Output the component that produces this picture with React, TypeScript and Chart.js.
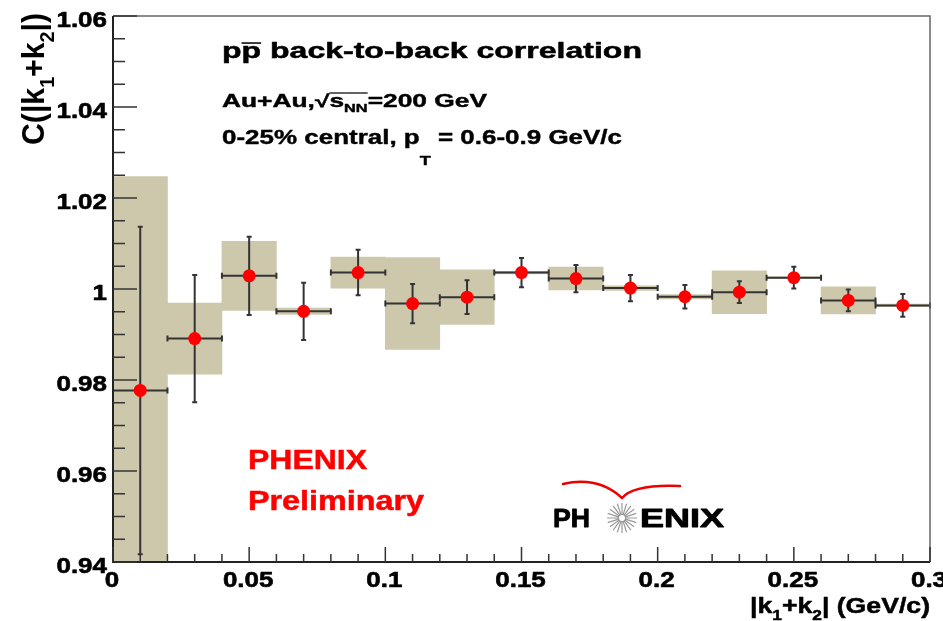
import React, { useEffect, useRef } from 'react';
import { Chart, registerables } from 'chart.js';

Chart.register(...registerables);

// ---------- data ----------
const binCenters = [0.01, 0.03, 0.05, 0.07, 0.09, 0.11, 0.13, 0.15, 0.17, 0.19, 0.21, 0.23, 0.25, 0.27, 0.29];
const binHalfWidth = 0.01;
const corrValues = [0.9777, 0.9891, 1.0029, 0.9951, 1.0036, 0.9968, 0.9982, 1.0036, 1.0023, 1.0002, 0.9983, 0.9993, 1.0025, 0.9975, 0.9964];
const statErrors = [0.036, 0.014, 0.0086, 0.0063, 0.005, 0.0043, 0.0037, 0.0032, 0.003, 0.0029, 0.0026, 0.0024, 0.0024, 0.0024, 0.0025];
const sysErrors = [0.047, 0.0078, 0.0076, 0.0007, 0.0034, 0.0101, 0.006, 0.0003, 0.0025, 0.0005, 0.0005, 0.0047, 0.0002, 0.003, 0.0003];

const xTickValues = [0, 0.05, 0.1, 0.15, 0.2, 0.25, 0.3];
const xTickLabels = ['0', '0.05', '0.1', '0.15', '0.2', '0.25', '0.3'];
const yTickValues = [0.94, 0.96, 0.98, 1.0, 1.02, 1.04, 1.06];
const yTickLabels = ['0.94', '0.96', '0.98', '1', '1.02', '1.04', '1.06'];

const X_MIN = 0, X_MAX = 0.3, Y_MIN = 0.94, Y_MAX = 1.06;

const FONT = '"Liberation Sans", Arial, Helvetica, sans-serif';

type Seg = { t: string; s?: number; dy?: number; ol?: number };
type RichOpts = { size: number; width?: number; sx?: number; align?: 'left' | 'right' | 'center'; color?: string; rotate?: boolean; cross?: number; heavy?: number };

function drawRich(ctx: CanvasRenderingContext2D, segs: Seg[], x: number, y: number, o: RichOpts) {
  ctx.save();
  const widths = segs.map((sg) => {
    ctx.font = `bold ${o.size * (sg.s ?? 1)}px ${FONT}`;
    return ctx.measureText(sg.t).width;
  });
  const total = widths.reduce((a, b) => a + b, 0);
  const sx = o.width ? o.width / total : o.sx ?? 1;
  ctx.translate(x, y);
  if (o.rotate) ctx.rotate(-Math.PI / 2);
  ctx.scale(sx, o.cross ?? 1);
  const align = o.align ?? 'left';
  let cx = align === 'left' ? 0 : align === 'right' ? -total : -total / 2;
  ctx.fillStyle = o.color ?? '#000';
  ctx.strokeStyle = o.color ?? '#000';
  ctx.textAlign = 'left';
  ctx.textBaseline = 'alphabetic';
  ctx.lineJoin = 'round';
  segs.forEach((sg, i) => {
    ctx.font = `bold ${o.size * (sg.s ?? 1)}px ${FONT}`;
    ctx.fillText(sg.t, cx, (sg.dy ?? 0) * o.size);
    if (o.heavy) {
      ctx.lineWidth = o.heavy;
      ctx.strokeText(sg.t, cx, (sg.dy ?? 0) * o.size);
    }
    if (sg.ol !== undefined) {
      ctx.lineWidth = o.size * 0.07;
      ctx.beginPath();
      ctx.moveTo(cx, -sg.ol * o.size);
      ctx.lineTo(cx + widths[i], -sg.ol * o.size);
      ctx.stroke();
    }
    cx += widths[i];
  });
  ctx.restore();
}

const errorBarPlugin = {
  id: 'errorBars',
  afterDatasetDraw(chart: any, args: any) {
    if (args.index !== 1) return;
    const { ctx, scales } = chart;
    const xs = scales.x, ys = scales.y;
    ctx.save();
    ctx.strokeStyle = '#333';
    ctx.lineWidth = 2;
    binCenters.forEach((xc, i) => {
      const v = corrValues[i];
      const px = xs.getPixelForValue(xc);
      const py = ys.getPixelForValue(v);
      const pl = xs.getPixelForValue(xc - binHalfWidth);
      const pr = xs.getPixelForValue(xc + binHalfWidth);
      const pt = ys.getPixelForValue(v + statErrors[i]);
      const pb = ys.getPixelForValue(v - statErrors[i]);
      ctx.beginPath();
      ctx.moveTo(pl, py); ctx.lineTo(pr, py);
      ctx.moveTo(px, pt); ctx.lineTo(px, pb);
      ctx.moveTo(pl, py - 3); ctx.lineTo(pl, py + 3);
      ctx.moveTo(pr, py - 3); ctx.lineTo(pr, py + 3);
      ctx.moveTo(px - 2.5, pt); ctx.lineTo(px + 2.5, pt);
      ctx.moveTo(px - 2.5, pb); ctx.lineTo(px + 2.5, pb);
      ctx.stroke();
    });
    ctx.restore();
  },
};

const decorPlugin = {
  id: 'decor',
  afterDraw(chart: any) {
    const { ctx, chartArea: a, scales } = chart;
    const xs = scales.x, ys = scales.y;
    ctx.save();
    // frame
    ctx.lineCap = 'butt';
    ctx.strokeStyle = '#666';
    ctx.lineWidth = 1.5;
    ctx.beginPath();
    ctx.moveTo(a.left, a.top); ctx.lineTo(a.right, a.top); ctx.lineTo(a.right, a.bottom);
    ctx.stroke();
    ctx.strokeStyle = '#222';
    ctx.lineWidth = 2;
    ctx.beginPath();
    ctx.moveTo(a.left, a.top); ctx.lineTo(a.left, a.bottom); ctx.lineTo(a.right, a.bottom);
    ctx.stroke();
    // ticks (inside)
    ctx.strokeStyle = '#333';
    ctx.lineWidth = 1.5;
    ctx.beginPath();
    const nY = Math.round((Y_MAX - Y_MIN) / 0.005);
    for (let i = 0; i <= nY; i++) {
      const py = ys.getPixelForValue(Y_MIN + i * 0.005);
      const len = i % 4 === 0 ? 24 : 12;
      ctx.moveTo(a.left, py); ctx.lineTo(a.left + len, py);
    }
    const nX = Math.round((X_MAX - X_MIN) / 0.01);
    for (let i = 0; i <= nX; i++) {
      const px = xs.getPixelForValue(X_MIN + i * 0.01);
      const len = i % 5 === 0 ? 15 : 8;
      ctx.moveTo(px, a.bottom); ctx.lineTo(px, a.bottom - len);
    }
    ctx.stroke();
    ctx.restore();

    // tick labels
    yTickValues.forEach((v, i) => {
      drawRich(ctx, [{ t: yTickLabels[i] }], a.left - 6, ys.getPixelForValue(v) + 10.5, { size: 22, sx: 1.18, align: 'right', heavy: 0.6 });
    });
    xTickValues.forEach((v, i) => {
      drawRich(ctx, [{ t: xTickLabels[i] }], xs.getPixelForValue(v) - 1, a.bottom + 25, { size: 22, sx: 1.18, align: 'center', heavy: 0.6 });
    });

    // axis titles
    drawRich(ctx, [{ t: '|k' }, { t: '1', s: 0.65, dy: 0.3 }, { t: '+k' }, { t: '2', s: 0.65, dy: 0.3 }, { t: '| (GeV/c)' }],
      a.right, 613, { size: 22, width: 180, align: 'right', heavy: 0.5 });
    drawRich(ctx, [{ t: 'C(|k' }, { t: '1', s: 0.65, dy: 0.3 }, { t: '+k' }, { t: '2', s: 0.65, dy: 0.3 }, { t: '|)' }],
      44, 13, { size: 29, width: 132, align: 'right', rotate: true, cross: 1.1 });

    // annotations
    drawRich(ctx, [{ t: 'p' }, { t: 'p', ol: 0.68 }, { t: ' back-to-back correlation' }], 222, 58, { size: 22, width: 420, heavy: 0.5 });
    drawRich(ctx, [{ t: 'Au+Au,' }, { t: '√' }, { t: 's', ol: 0.8 }, { t: 'NN', s: 0.62, dy: 0.3, ol: 0.8 }, { t: '=200 GeV' }], 222, 107, { size: 17.5, width: 265, heavy: 0.4 });
    drawRich(ctx, [{ t: '0-25% central, p' }, { t: 'T', s: 0.7, dy: 1.1 }, { t: ' = 0.6-0.9 GeV/c' }], 222, 144, { size: 19.5, width: 400, heavy: 0.4 });

    drawRich(ctx, [{ t: 'PHENIX' }], 248, 469, { size: 27, width: 119, color: '#ff0000', heavy: 0.5 });
    drawRich(ctx, [{ t: 'Preliminary' }], 248, 510, { size: 27, width: 176, color: '#ff0000', heavy: 0.5 });

    // logo
    drawRich(ctx, [{ t: 'PH' }], 553, 527, { size: 25, width: 37, heavy: 0.8 });
    drawRich(ctx, [{ t: 'ENIX' }], 640, 527, { size: 25, width: 84, heavy: 0.8 });
    ctx.save();
    ctx.strokeStyle = '#9a9a9a';
    ctx.lineWidth = 1.2;
    const cx = 622, cy = 518;
    ctx.beginPath();
    for (let k = 0; k < 20; k++) {
      const ang = (k * Math.PI) / 10;
      ctx.moveTo(cx + 3 * Math.cos(ang), cy + 3 * Math.sin(ang));
      ctx.lineTo(cx + 15 * Math.cos(ang), cy + 15 * Math.sin(ang));
    }
    ctx.stroke();
    ctx.strokeStyle = '#ee0000';
    ctx.lineWidth = 2.5;
    ctx.lineCap = 'round';
    ctx.beginPath();
    ctx.moveTo(563, 484);
    ctx.quadraticCurveTo(598, 476, 622, 498);
    ctx.quadraticCurveTo(634, 484, 680, 486);
    ctx.stroke();
    ctx.restore();
  },
};

export default function App() {
  const ref = useRef<HTMLCanvasElement | null>(null);
  useEffect(() => {
    document.body.style.margin = '0';
    const canvas = ref.current;
    if (!canvas) return;
    const chart = new Chart(canvas, {
      type: 'bar',
      data: {
        datasets: [
          {
            type: 'line',
            label: 'C',
            data: binCenters.map((x, i) => ({ x, y: corrValues[i] })),
            showLine: false,
            pointRadius: 6.5,
            pointHoverRadius: 6.5,
            pointBackgroundColor: '#ff0000',
            pointBorderWidth: 0,
            borderColor: '#ff0000',
            order: 0,
          } as any,
          {
            type: 'bar',
            label: 'sys',
            data: binCenters.map((x, i) => ({ x, y: [corrValues[i] - sysErrors[i], corrValues[i] + sysErrors[i]] })),
            backgroundColor: 'rgb(205,200,172)',
            borderWidth: 0,
            barPercentage: 1,
            categoryPercentage: 1,
            order: 1,
          } as any,
        ],
      },
      options: {
        animation: false,
        responsive: false,
        devicePixelRatio: 1,
        layout: { padding: { left: 113, right: 13, top: 16, bottom: 59 } },
        plugins: { legend: { display: false }, tooltip: { enabled: false } },
        events: [],
        scales: {
          x: { type: 'linear', min: X_MIN, max: X_MAX, offset: false, display: false, ticks: { stepSize: 0.05 } },
          y: { type: 'linear', min: Y_MIN, max: Y_MAX, beginAtZero: false, display: false },
        },
      } as any,
      plugins: [errorBarPlugin, decorPlugin],
    });
    return () => chart.destroy();
  }, []);
  return (
    <div style={{ width: 943, height: 621, background: '#fff' }}>
      <canvas ref={ref} width={943} height={621} style={{ display: 'block' }} />
    </div>
  );
}
